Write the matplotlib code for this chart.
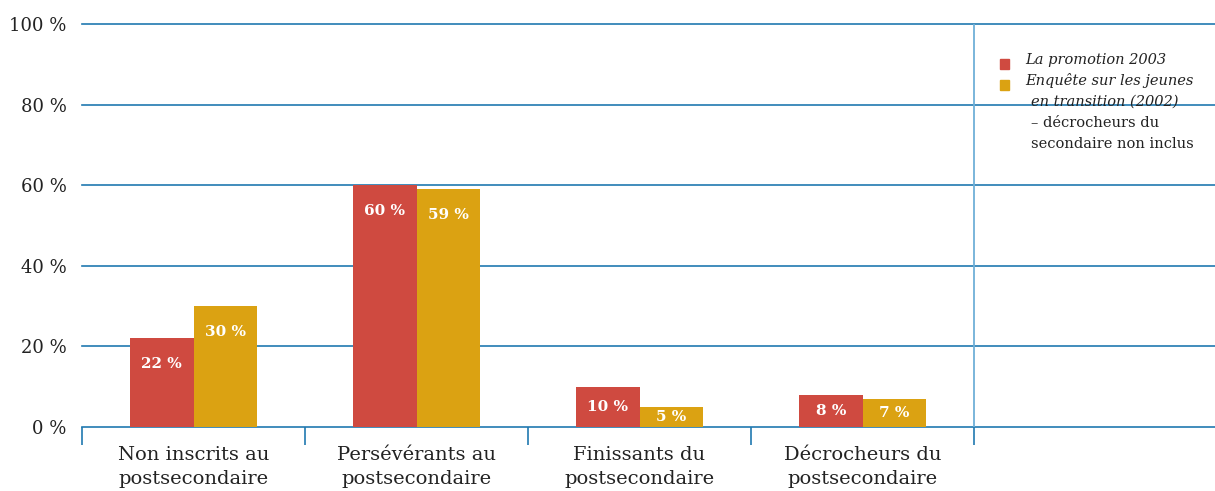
import matplotlib
matplotlib.use("Agg")
import matplotlib.pyplot as plt
from matplotlib.patches import Rectangle

categories = ["Non inscrits au\npostsecondaire", "Persévérants au\npostsecondaire",
              "Finissants du\npostsecondaire", "Décrocheurs du\npostsecondaire"]
promo_2003 = [22, 60, 10, 8]
ejet_2002 = [30, 59, 5, 7]
yticks = [0, 20, 40, 60, 80, 100]

RED = "#cf4a40"
GOLD = "#dba212"
BLUE = "#2079b0"
LIGHT_BLUE = "#6fb0d8"

plt.rcParams["font.family"] = ["DejaVu Serif"]

W, H = 1215, 491
fig = plt.figure(figsize=(W / 100, H / 100), dpi=100)
left, right, bottom, top = 82, 1215, 427, 24
ax = fig.add_axes([left / W, 1 - bottom / H, (right - left) / W, (bottom - top) / H])

cat_w = 223
xmax = (right - left) / cat_w
ax.set_xlim(0, xmax)
ax.set_ylim(0, 100)

bw = 0.285
centers = [i + 0.5 for i in range(len(categories))]
for c, a, b in zip(centers, promo_2003, ejet_2002):
    ax.bar(c - bw / 2, a, width=bw, color=RED, zorder=3)
    ax.bar(c + bw / 2, b, width=bw, color=GOLD, zorder=3)
    for x, v in ((c - bw / 2, a), (c + bw / 2, b)):
        y = v - 6.4 if v >= 20 else v / 2
        ax.text(x, y, "%d %%" % v, ha="center", va="center", color="white",
                fontsize=11, fontweight="bold", zorder=4)

for y in yticks:
    ax.axhline(y, color=BLUE, lw=1.2, zorder=2, clip_on=False)

for s in ax.spines.values():
    s.set_visible(False)

ax.set_yticks(yticks)
ax.set_yticklabels(["%d %%" % y for y in yticks], fontsize=13, color="#222222")
ax.tick_params(axis="y", length=0, pad=11)

ax.set_xticks([0, 1, 2, 3, 4])
ax.set_xticklabels([])
ax.tick_params(axis="x", which="major", length=13, width=1.2, color=BLUE, direction="out")
ax.set_xticks(centers, minor=True)
ax.set_xticklabels(categories, minor=True, fontsize=14, color="#222222", linespacing=1.38)
ax.tick_params(axis="x", which="minor", length=0, pad=14)

ax.axvline(4, color=LIGHT_BLUE, lw=1.3, zorder=2)

# legend
tx = 4 + 51 / cat_w
sx = 4 + 30 / cat_w
lines = [
    ("La promotion 2003", "italic", 0, RED),
    ("Enquête sur les jeunes", "italic", 0, GOLD),
    ("en transition (2002)", "italic", 6, None),
    ("– décrocheurs du", "normal", 6, None),
    ("secondaire non inclus", "normal", 6, None),
]
for i, (txt, style, indent, col) in enumerate(lines):
    ypos = 100 - (60 - top + i * 21) / ((bottom - top) / 100)
    ax.text(tx + indent / cat_w, ypos, txt, fontsize=10.5, style=style,
            color="#222222", va="center", ha="left")
    if col:
        ax.add_patch(Rectangle((sx - 4 / cat_w, ypos - 2.2), 9 / cat_w, 2.4,
                               color=col, clip_on=False))

fig.savefig("out.png", dpi=100)
